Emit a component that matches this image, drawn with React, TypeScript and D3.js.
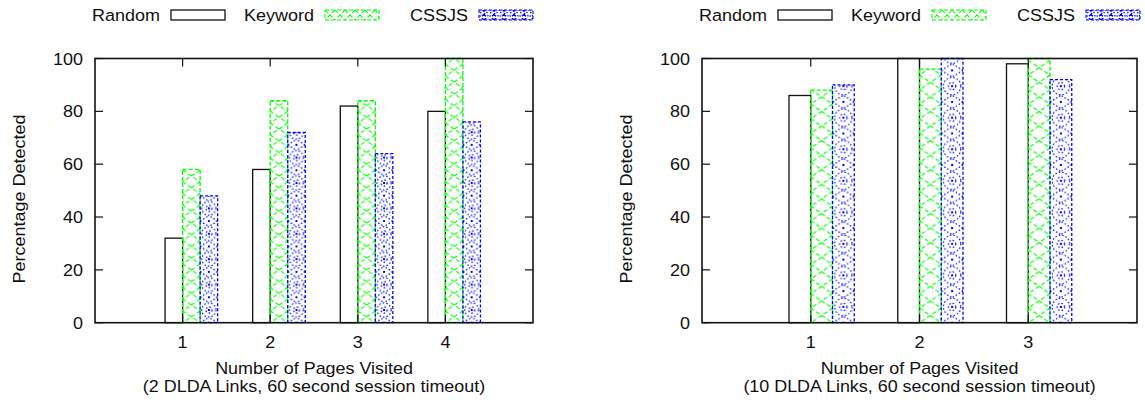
import React from "react";
import * as d3 from "d3";

// Detection rates (%) per number of pages visited
const seriesNames = ["Random", "Keyword", "CSSJS"];

const pagesLeft = [1, 2, 3, 4];
const randomLeft = [32, 58, 82, 80];
const keywordLeft = [58, 84, 84, 100];
const cssjsLeft = [48, 72, 64, 76];

const pagesRight = [1, 2, 3];
const randomRight = [86, 100, 98];
const keywordRight = [88, 96, 100];
const cssjsRight = [90, 100, 92];

const yTicks = [0, 20, 40, 60, 80, 100];

const titleLine1 = "Number of Pages Visited";
const subtitleLeft = "(2 DLDA Links, 60 second session timeout)";
const subtitleRight = "(10 DLDA Links, 60 second session timeout)";
const yTitle = "Percentage Detected";

const W = 1145;
const H = 402;
const FONT = "'Liberation Sans', Arial, Helvetica, sans-serif";
const FS = 17;
const SX = 1.06;
const GREEN = "#00ff00";
const BLUE = "#0000ff";
const TOP = 58.5;
const BOTTOM = 322.7;
const TICK = 8;
const BAR_W = 0.2;

type TProps = {
  x: number;
  y: number;
  anchor?: "start" | "middle" | "end";
  rotate?: boolean;
  size?: number;
  sx?: number;
  children: React.ReactNode;
};

function T({ x, y, anchor = "middle", rotate = false, size = FS, sx = SX, children }: TProps) {
  const tr = `translate(${x},${y})${rotate ? " rotate(-90)" : ""} scale(${sx},1)`;
  return (
    <text
      transform={tr}
      textAnchor={anchor}
      fontFamily={FONT}
      fontSize={size}
      fill="#111"
    >
      {children}
    </text>
  );
}

function KeywordPattern({ id, x, y, w, h }: { id: string; x: number; y: number; w: number; h: number }) {
  return (
    <pattern id={id} patternUnits="userSpaceOnUse" x={x} y={y} width={w} height={h}>
      <g stroke={GREEN} strokeWidth={1.1} strokeDasharray="4,2.5" fill="none">
        <line x1={0} y1={0} x2={w} y2={h} />
        <line x1={w} y1={0} x2={0} y2={h} />
      </g>
    </pattern>
  );
}

function CssjsPattern({ id, x, y, w, h }: { id: string; x: number; y: number; w: number; h: number }) {
  const cx = w / 2;
  const cy = h / 2;
  return (
    <pattern id={id} patternUnits="userSpaceOnUse" x={x} y={y} width={w} height={h}>
      <g stroke={BLUE} strokeWidth={1.2} fill="none" strokeDasharray="1.5,2">
        <circle cx={cx} cy={cy} r={w * 0.4} />
        <circle cx={cx} cy={cy} r={w * 0.17} />
        <line x1={0} y1={0} x2={cx} y2={cy - w * 0.42} />
        <line x1={w} y1={0} x2={cx} y2={cy - w * 0.42} />
        <line x1={0} y1={h} x2={cx} y2={cy + w * 0.42} />
        <line x1={w} y1={h} x2={cx} y2={cy + w * 0.42} />
      </g>
      <g fill={BLUE}>
        <rect x={cx - 1} y={cy - 1} width={2} height={2} />
        <rect x={cx - 1} y={-1} width={2} height={2} />
        <rect x={cx - 1} y={h - 1} width={2} height={2} />
      </g>
    </pattern>
  );
}

type PanelProps = {
  id: string;
  left: number;
  right: number;
  xMax: number;
  pages: number[];
  values: number[][];
  subtitle: string;
};

function Panel({ id, left, right, xMax, pages, values, subtitle }: PanelProps) {
  const x = d3.scaleLinear().domain([0, xMax]).range([left, right]);
  const y = d3.scaleLinear().domain([0, 100]).range([BOTTOM, TOP]);
  const bw = x(BAR_W) - x(0);
  const patH = bw * 1.45;
  const hatchH = bw * 0.67;

  const defs: React.ReactNode[] = [];
  const bars: React.ReactNode[] = [];

  pages.forEach((p, i) => {
    values.forEach((vals, s) => {
      const bx = x(p + (s - 1) * BAR_W);
      const by = y(vals[i]);
      const bh = y(0) - by;
      const pid = `${id}-p${s}-${i}`;
      if (s === 0) {
        bars.push(
          <rect key={pid} x={bx} y={by} width={bw} height={bh} fill="none" stroke="#111" strokeWidth={1.3} />
        );
      } else if (s === 1) {
        defs.push(<KeywordPattern key={pid} id={pid} x={bx} y={BOTTOM} w={bw} h={hatchH} />);
        bars.push(
          <g key={pid}>
            <rect x={bx} y={by} width={bw} height={bh} fill={`url(#${pid})`} />
            <rect x={bx} y={by} width={bw} height={bh} fill="none" stroke={GREEN} strokeWidth={1.3} strokeDasharray="4,2" />
          </g>
        );
      } else {
        defs.push(<CssjsPattern key={pid} id={pid} x={bx} y={BOTTOM} w={bw} h={patH} />);
        bars.push(
          <g key={pid}>
            <rect x={bx} y={by} width={bw} height={bh} fill={`url(#${pid})`} />
            <rect x={bx} y={by} width={bw} height={bh} fill="none" stroke={BLUE} strokeWidth={1.3} strokeDasharray="3,2" />
          </g>
        );
      }
    });
  });

  // legend
  const legend = seriesNames.map((name, s) => {
    const tx = left + 65 + s * 154;
    const sx0 = tx + 11;
    const sw = 54;
    const sy = 10;
    const sh = 10;
    const lid = `${id}-leg${s}`;
    let sample: React.ReactNode;
    if (s === 0) {
      sample = <rect x={sx0} y={sy} width={sw} height={sh} fill="none" stroke="#111" strokeWidth={1.3} />;
    } else if (s === 1) {
      defs.push(<KeywordPattern key={lid} id={lid} x={sx0} y={sy} w={10} h={sh} />);
      sample = (
        <g>
          <rect x={sx0} y={sy} width={sw} height={sh} fill={`url(#${lid})`} />
          <rect x={sx0} y={sy} width={sw} height={sh} fill="none" stroke={GREEN} strokeWidth={1.1} strokeDasharray="4,2" />
        </g>
      );
    } else {
      defs.push(<CssjsPattern key={lid} id={lid} x={sx0} y={sy} w={10} h={sh} />);
      sample = (
        <g>
          <rect x={sx0} y={sy} width={sw} height={sh} fill={`url(#${lid})`} />
          <rect x={sx0} y={sy} width={sw} height={sh} fill="none" stroke={BLUE} strokeWidth={1.1} strokeDasharray="3,2" />
        </g>
      );
    }
    return (
      <g key={lid}>
        <T x={tx} y={21} anchor="end">{name}</T>
        {sample}
      </g>
    );
  });

  return (
    <g>
      <defs>{defs}</defs>
      {legend}
      {bars}
      {/* axis ticks, mirrored on all four sides */}
      <g stroke="#111" strokeWidth={1.2}>
        {yTicks.map((t) => (
          <g key={`yt${t}`}>
            <line x1={left} x2={left + TICK} y1={y(t)} y2={y(t)} />
            <line x1={right - TICK} x2={right} y1={y(t)} y2={y(t)} />
          </g>
        ))}
        {pages.map((p) => (
          <g key={`xt${p}`}>
            <line x1={x(p)} x2={x(p)} y1={BOTTOM} y2={BOTTOM - TICK} />
            <line x1={x(p)} x2={x(p)} y1={TOP} y2={TOP + TICK} />
          </g>
        ))}
      </g>
      <rect x={left} y={TOP} width={right - left} height={BOTTOM - TOP} fill="none" stroke="#111" strokeWidth={1.6} />
      {yTicks.map((t) => (
        <T key={`yl${t}`} x={left - 12} y={y(t) + 6} anchor="end">{t}</T>
      ))}
      {pages.map((p) => (
        <T key={`xl${p}`} x={x(p)} y={348}>{p}</T>
      ))}
      <T x={(left + right) / 2} y={374} size={16} sx={1.12}>{titleLine1}</T>
      <T x={(left + right) / 2} y={392} size={16} sx={1.12}>{subtitle}</T>
      <T x={left - 70} y={199} rotate>{yTitle}</T>
    </g>
  );
}

export default function App() {
  return (
    <svg
      width={W}
      height={H}
      viewBox={`0 0 ${W} ${H}`}
      style={{ position: "absolute", left: 0, top: 0, background: "#fff" }}
    >
      <rect width={W} height={H} fill="#fff" />
      <Panel
        id="l"
        left={95}
        right={533}
        xMax={5}
        pages={pagesLeft}
        values={[randomLeft, keywordLeft, cssjsLeft]}
        subtitle={subtitleLeft}
      />
      <Panel
        id="r"
        left={702}
        right={1137}
        xMax={4}
        pages={pagesRight}
        values={[randomRight, keywordRight, cssjsRight]}
        subtitle={subtitleRight}
      />
    </svg>
  );
}
